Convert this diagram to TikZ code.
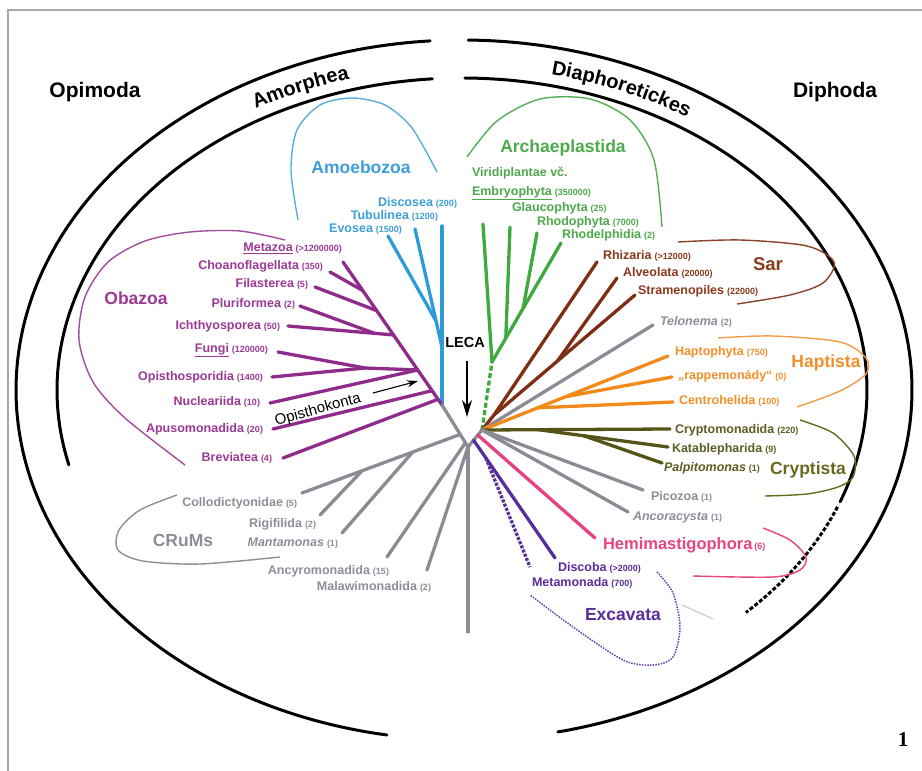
\documentclass[tikz,border=0pt]{standalone}
\usepackage{fontspec}
\setmainfont{Liberation Sans}
\newfontfamily\figserif{Liberation Serif}
\usetikzlibrary{arrows.meta,calc,decorations.text}
\definecolor{cframe}{HTML}{A8A8A8}
\definecolor{lblue}{HTML}{2E9AD6}\definecolor{tblue}{HTML}{3D9FD6}\definecolor{pblue}{HTML}{5AAEDD}
\definecolor{lpurp}{HTML}{8E2B8B}\definecolor{tpurp}{HTML}{9B3A94}\definecolor{ppurp}{HTML}{A24C9E}
\definecolor{lgreen}{HTML}{3EA93E}\definecolor{tgreen}{HTML}{4DAA4A}\definecolor{pgreen}{HTML}{55AE55}
\definecolor{lbrown}{HTML}{7E2E14}\definecolor{tbrown}{HTML}{8A3A1C}\definecolor{pbrown}{HTML}{8B4128}
\definecolor{lorange}{HTML}{F28A1A}\definecolor{torange}{HTML}{F0902A}\definecolor{porange}{HTML}{F39A45}
\definecolor{lolive}{HTML}{555418}\definecolor{tolive}{HTML}{5E5D22}\definecolor{polive}{HTML}{6A6920}
\definecolor{lgray}{HTML}{8B8B95}\definecolor{tgray}{HTML}{8E8E9A}\definecolor{pgray}{HTML}{8E8E98}
\definecolor{lpink}{HTML}{E8417F}\definecolor{tpink}{HTML}{E6457F}
\definecolor{lexc}{HTML}{55309A}\definecolor{texc}{HTML}{5B2E99}\definecolor{pexc}{HTML}{6A3FA8}
\newcommand{\taxon}[2]{{\fontsize{12.5}{14}\selectfont\bfseries #1}\hspace{3pt}{\fontsize{9}{10}\selectfont\bfseries(#2)}}
\newcommand{\itaxon}[2]{{\fontsize{12.5}{14}\selectfont\bfseries\itshape #1}\hspace{3pt}{\fontsize{9}{10}\selectfont\bfseries(#2)}}
\begin{document}
\begin{tikzpicture}[x=1pt,y=-1pt,
 br/.style={line width=3.3pt,line cap=round,line join=round},
 lp/.style={line width=1.4pt},
 arcline/.style={line width=3pt,draw=black,line cap=round},
 lbl/.style={inner sep=0pt,outer sep=0pt},
 grp/.style={inner sep=0pt,font=\fontsize{17.5}{18}\selectfont\bfseries},
 big/.style={inner sep=0pt,font=\fontsize{21}{22}\selectfont\bfseries},
]
\fill[white] (0,0) rectangle (922,771);
\useasboundingbox (0,0) rectangle (922,771);
\draw[cframe,line width=2pt] (8,771) -- (8,10) -- (922,10);

% big arcs
\draw[arcline] plot[domain=94.1:260.3,samples=150] ({462+446*cos(\x)},{390-350*sin(\x)});
\draw[arcline] plot[domain=89.2:-77.7,samples=150] ({462+450*cos(\x)},{390-350*sin(\x)});
\draw[arcline] plot[domain=94.2:193.9,samples=120] ({462+405*cos(\x)},{390-312*sin(\x)});
\draw[arcline] plot[domain=89.6:-21,samples=120] ({462+405*cos(\x)},{390-312*sin(\x)});
\draw[arcline,line cap=butt,dash pattern=on 4pt off 2pt] plot[domain=-22:-45.5,samples=40] ({462+405*cos(\x)},{390-312*sin(\x)});

\node[big] (opi) at (95,92) {Opimoda};
\node[big] (dip) at (835,92) {Diphoda};
\path[decorate,decoration={text along path,text align=center,
  text={|\fontsize{20}{21}\selectfont\bfseries|Amorphea}}]
  plot[domain=133:93,samples=60] ({462+419*cos(\x)},{390-323*sin(\x)});
\path[decorate,decoration={text along path,text align=center,
  text={|\fontsize{20}{21}\selectfont\bfseries|Diaphoretickes}}]
  plot[domain=91:43,samples=60] ({462+419*cos(\x)},{390-323*sin(\x)});

% key coordinates
\coordinate (JA) at (442,405);
\coordinate (C0) at (468,447);
\coordinate (H) at (482,430);
\coordinate (stemEnd) at (468,632);

% Amoebozoa
\coordinate (tDisc) at (442,226);
\coordinate (tTub) at (415,229);
\coordinate (tEvo) at (388,236);
\coordinate (B2) at (442,347);
\draw[br,lblue] (tDisc) -- (JA);
\draw[br,lblue] (tTub) -- (B2);
\draw[br,lblue] (tEvo) -- ($(tTub)!0.78!(B2)$);
\node[lbl,anchor=east,text=tblue] (lDisc) at (457,203) {\taxon{Discosea}{200}};
\node[lbl,anchor=east,text=tblue] (lTub) at (438,216) {\taxon{Tubulinea}{1200}};
\node[lbl,anchor=east,text=tblue] (lEvo) at (402,229) {\taxon{Evosea}{1500}};
\node[grp,text=tblue] (gAmo) at (361,167) {Amoebozoa};
\draw[lp,pblue] plot[smooth] coordinates {(298,220) (291,170) (297,130) (320,105) (352,98) (385,105) (412,128) (437,172)};

% Obazoa
\coordinate (tMeta) at (343,262);
\coordinate (tChoa) at (330,272);
\coordinate (tFila) at (315,287);
\coordinate (tPlur) at (300,306);
\coordinate (tIch) at (288,326);
\coordinate (tFung) at (278,352);
\coordinate (tOpis) at (272,377);
\coordinate (tNucl) at (270,403);
\coordinate (tApus) at (273,429);
\coordinate (tBrev) at (283,458);
\draw[br,lpurp] (JA) -- (tMeta);
\draw[br,lpurp] (tChoa) -- ($(JA)!0.80!(tMeta)$);
\draw[br,lpurp] (tFila) -- ($(JA)!0.66!(tMeta)$);
\coordinate (sIch) at ($(JA)!0.49!(tMeta)$);
\draw[br,lpurp] (tIch) -- (sIch);
\draw[br,lpurp] (tPlur) -- ($(tIch)!0.82!(sIch)$);
\coordinate (sHolo) at ($(JA)!0.245!(tMeta)$);
\coordinate (F0) at (365,368);
\draw[br,lpurp] (tFung) -- (F0) -- (sHolo);
\draw[br,lpurp] (tOpis) -- (F0);
\draw[br,lpurp] (tNucl) -- (sHolo);
\draw[br,lpurp] (tApus) -- ($(JA)!0.10!(tMeta)$);
\draw[br,lpurp] (tBrev) -- ($(JA)!0.04!(tMeta)$);
\node[lbl,anchor=east,text=tpurp] (lMeta) at (342,248) {\taxon{\underline{Metazoa}}{>1200000}};
\node[lbl,anchor=east,text=tpurp] (lChoa) at (323,266) {\taxon{Choanoflagellata}{350}};
\node[lbl,anchor=east,text=tpurp] (lFila) at (308,284) {\taxon{Filasterea}{5}};
\node[lbl,anchor=east,text=tpurp] (lPlur) at (295,304) {\taxon{Pluriformea}{2}};
\node[lbl,anchor=east,text=tpurp] (lIch) at (280,326) {\taxon{Ichthyosporea}{50}};
\node[lbl,anchor=east,text=tpurp] (lFung) at (268,350) {\taxon{\underline{Fungi}}{120000}};
\node[lbl,anchor=east,text=tpurp] (lOpis) at (263,377) {\taxon{Opisthosporidia}{1400}};
\node[lbl,anchor=east,text=tpurp] (lNucl) at (260,402) {\taxon{Nucleariida}{10}};
\node[lbl,anchor=east,text=tpurp] (lApus) at (263,429) {\taxon{Apusomonadida}{20}};
\node[lbl,anchor=east,text=tpurp] (lBrev) at (272,458) {\taxon{Breviatea}{4}};
\node[grp,text=tpurp] (gOba) at (136,298) {Obazoa};
\draw[lp,ppurp] plot[smooth] coordinates {(285,240) (240,231) (190,232) (145,241) (108,262) (85,297) (79,340) (93,382) (125,418) (185,465)};
\node[lbl,rotate=15.5,font=\fontsize{15}{16}\selectfont] (lOpk) at (318,410) {Opisthokonta};
\coordinate (oaS) at (373,393);
\coordinate (oaE) at (418,381);
\draw[line width=1.1pt,-{Stealth[length=11pt,width=7pt]}] (oaS) -- (oaE);

% gray base and CRuMs
\draw[br,lgray] (JA) -- (C0) -- (H);
\draw[br,lgray] (C0) -- (stemEnd);
\coordinate (K0) at ($(JA)!0.7!(C0)$);
\coordinate (tColl) at (302,493);
\coordinate (tRig) at (320,515);
\coordinate (tMant) at (342,533);
\coordinate (tAncy) at (387,557);
\coordinate (tMalaw) at (427,570);
\draw[br,lgray] (K0) -- (tColl);
\draw[br,lgray] ($(K0)!0.3!(tColl)$) -- (tMant);
\draw[br,lgray] ($(K0)!0.62!(tColl)$) -- (tRig);
\draw[br,lgray] ($(JA)!0.9!(C0)$) -- (tAncy);
\draw[br,lgray] (C0) -- (tMalaw);
\node[lbl,anchor=east,text=tgray] (lColl) at (297,503) {\taxon{Collodictyonidae}{5}};
\node[lbl,anchor=east,text=tgray] (lRig) at (316,524) {\taxon{Rigifilida}{2}};
\node[lbl,anchor=east,text=tgray] (lMant) at (338,543) {\itaxon{Mantamonas}{1}};
\node[lbl,anchor=east,text=tgray] (lAncy) at (389,571) {\taxon{Ancyromonadida}{15}};
\node[lbl,anchor=east,text=tgray] (lMalaw) at (431,587) {\taxon{Malawimonadida}{2}};
\node[grp,text=tgray] (gCru) at (183,540) {CRuMs};
\draw[lp,pgray] plot[smooth] coordinates {(177,495) (140,510) (119,530) (118,550) (143,561) (200,564) (280,557)};

% LECA
\node[lbl,font=\fontsize{14.5}{15}\selectfont\bfseries] (leca) at (465,343) {LECA};
\coordinate (laS) at (467,361);
\coordinate (laE) at (467,417);
\draw[line width=1.3pt,-{Stealth[length=17pt,width=10pt]}] (laS) -- (laE);

% Archaeplastida
\coordinate (G0) at (492,362);
\coordinate (tVir) at (483,224);
\coordinate (tGlau) at (510,227);
\coordinate (tRhodo) at (537,233);
\coordinate (tRhodel) at (561,243);
\draw[br,lgreen,line cap=butt,dash pattern=on 5pt off 2.5pt] (H) -- (G0);
\draw[br,lgreen] (tVir) -- (G0) -- (tRhodel);
\draw[br,lgreen] (tGlau) -- ($(G0)!0.2!(tRhodel)$);
\draw[br,lgreen] (tRhodo) -- ($(G0)!0.45!(tRhodel)$);
\node[lbl,anchor=west,text=tgreen,font=\fontsize{12.5}{14}\selectfont\bfseries] (lVir) at (472,173) {Viridiplantae vč.};
\node[lbl,anchor=west,text=tgreen] (lEmb) at (472,193) {\taxon{\underline{Embryophyta}}{350000}};
\node[lbl,anchor=west,text=tgreen] (lGlau) at (512,208) {\taxon{Glaucophyta}{25}};
\node[lbl,anchor=west,text=tgreen] (lRhodo) at (537,222) {\taxon{Rhodophyta}{7000}};
\node[lbl,anchor=west,text=tgreen] (lRhodel) at (562,235) {\taxon{Rhodelphidia}{2}};
\node[grp,text=tgreen] (gArc) at (563,148) {Archaeplastida};
\draw[lp,pgreen] plot[smooth] coordinates {(467,157) (497,121) (540,99) (590,99) (630,120) (654,160) (662,227)};

% Sar
\coordinate (S0) at (494,415);
\coordinate (tRhiz) at (597,262);
\coordinate (tAlv) at (617,278);
\coordinate (tStram) at (635,295);
\draw[br,lbrown] (H) -- (S0) -- (tRhiz);
\draw[br,lbrown] (S0) -- (tStram);
\draw[br,lbrown] ($(S0)!0.45!(tStram)$) -- (tAlv);
\node[lbl,anchor=west,text=tbrown] (lRhiz) at (603,256) {\taxon{Rhizaria}{>12000}};
\node[lbl,anchor=west,text=tbrown] (lAlv) at (623,273) {\taxon{Alveolata}{20000}};
\node[lbl,anchor=west,text=tbrown] (lStram) at (638,291) {\taxon{Stramenopiles}{22000}};
\node[grp,text=tbrown,font=\fontsize{18.5}{19}\selectfont\bfseries] (gSar) at (768,264) {Sar};
\draw[lp,pbrown] plot[smooth] coordinates {(678,242) (740,240) (807,246) (834,262) (823,283) (790,295) (737,304)};

% Telonema
\coordinate (tTelo) at (653,325);
\draw[br,lgray] (H) -- (tTelo);
\node[lbl,anchor=west,text=tgray] (lTelo) at (660,322) {\itaxon{Telonema}{2}};

% Haptista
\coordinate (tHapt) at (668,356);
\coordinate (tRapp) at (672,377);
\coordinate (tCent) at (673,402);
\draw[br,lorange] (H) -- (tHapt);
\draw[br,lorange] ($(H)!0.45!(tHapt)$) -- (tRapp);
\draw[br,lorange] ($(H)!0.3!(tHapt)$) -- (tCent);
\node[lbl,anchor=west,text=torange] (lHapt) at (675,352) {\taxon{Haptophyta}{750}};
\node[lbl,anchor=west,text=torange] (lRapp) at (678,376) {\taxon{„rappemonády“}{0}};
\node[lbl,anchor=west,text=torange] (lCent) at (679,401) {\taxon{Centrohelida}{100}};
\node[grp,text=torange] (gHap) at (826,363) {Haptista};
\draw[lp,porange] plot[smooth] coordinates {(718,338) (773,336) (840,342) (866,358) (866,374) (840,391) (797,407)};

% Cryptista
\coordinate (tCrypt) at (670,429);
\coordinate (tKatab) at (668,447);
\coordinate (tPalp) at (662,463);
\coordinate (Q1) at ($(H)!0.3!(tCrypt)$);
\draw[br,lolive] (H) -- (tCrypt);
\draw[br,lolive] (Q1) -- (tKatab);
\draw[br,lolive] ($(Q1)!0.35!(tKatab)$) -- (tPalp);
\node[lbl,anchor=west,text=tolive] (lCrypt) at (675,430) {\taxon{Cryptomonadida}{220}};
\node[lbl,anchor=west,text=tolive] (lKatab) at (672,449) {\taxon{Katablepharida}{9}};
\node[lbl,anchor=west,text=tolive] (lPalp) at (664,468) {\itaxon{Palpitomonas}{1}};
\node[grp,text=polive] (gCry) at (808,470) {Cryptista};
\draw[lp,polive] plot[smooth] coordinates {(800,420) (833,433) (854,456) (853,477) (838,487) (807,494) (765,496)};

% Picozoa, Ancoracysta
\coordinate (tPico) at (643,490);
\coordinate (tAnco) at (628,512);
\draw[br,lgray] (H) -- (tPico);
\draw[br,lgray] (H) -- (tAnco);
\node[lbl,anchor=west,text=tgray] (lPico) at (651,497) {\taxon{Picozoa}{1}};
\node[lbl,anchor=west,text=tgray] (lAnco) at (633,517) {\itaxon{Ancoracysta}{1}};

% Hemimastigophora
\coordinate (tHemi) at (595,538);
\draw[br,lpink] ($(H)!0.3!(C0)$) -- (tHemi);
\node[lbl,anchor=west,text=tpink] (lHemi) at (603,545) {{\fontsize{16.5}{17}\selectfont\bfseries Hemimastigophora}\hspace{2pt}{\fontsize{9}{10}\selectfont\bfseries(6)}};
\draw[lp,tpink] plot[smooth] coordinates {(763,528) (790,540) (806,557) (800,570) (773,577) (693,576)};

% Excavata
\coordinate (E0) at ($(C0)!0.4!(H)$);
\coordinate (tDisco) at (555,558);
\coordinate (tMetam) at (530,567);
\draw[br,lexc] (E0) -- (tDisco);
\draw[br,lexc,line cap=butt,dash pattern=on 3pt off 1.5pt] ($(E0)!0.15!(tDisco)$) -- (tMetam);
\node[lbl,anchor=west,text=texc] (lDisco) at (558,568) {\taxon{Discoba}{>2000}};
\node[lbl,anchor=west,text=texc] (lMetam) at (532,583) {\taxon{Metamonada}{700}};
\node[grp,text=texc] (gExc) at (623,615) {Excavata};
\draw[line width=1.5pt,pexc,dash pattern=on 1.5pt off 1.2pt] plot[smooth] coordinates {(657,572) (673,593) (680,627) (673,657) (653,665) (623,660) (573,627) (530,595)};
\draw[line width=1.4pt,black!18] (682,605) -- (713,619);

% figure number
\node[lbl,font=\figserif\bfseries\fontsize{21}{22}\selectfont] (num) at (903,740) {1};
\end{tikzpicture}
\end{document}
